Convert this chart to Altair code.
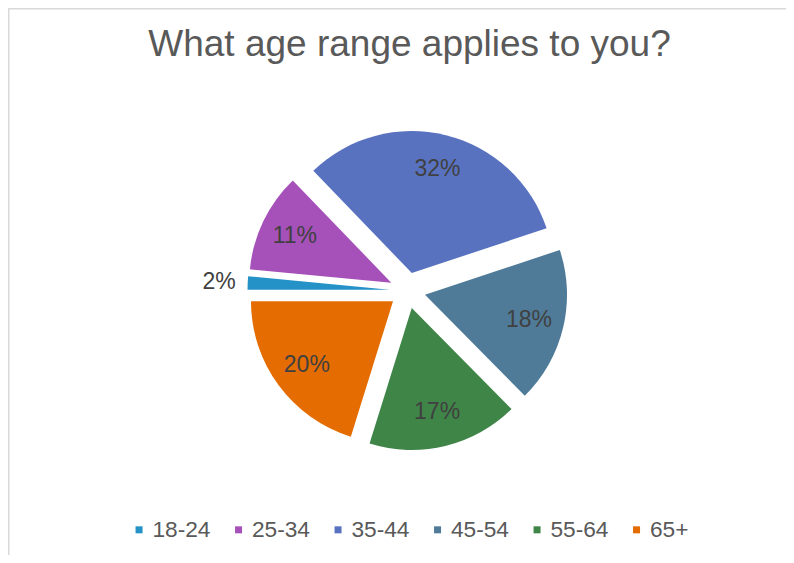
import math
import altair as alt
import pandas as pd

# ---- data ----
categories = ["18-24", "25-34", "35-44", "45-54", "55-64", "65+"]
shares = [1.5, 11.3, 32.1, 17.7, 17.2, 20.2]
colors = ["#2492C6", "#A551B9", "#5872C0", "#4F7B98", "#3F8548", "#E46C00"]
title_text = "What age range applies to you?"

df = pd.DataFrame({"age": categories, "share": shares, "idx": list(range(len(categories)))})

# ---- layout constants ----
W, H = 778, 547
CX, CY = 399.5, 282.5      # pie centre (view pixels)
EXPLODE = 18               # explosion distance of each slice
R = 142                    # pie radius
LABEL_R = 107              # inside-label distance from slice tip
OUT_R = R + 12             # outside-label distance
START = 1.5 * math.pi      # first slice starts at 9 o'clock

FONT = "Liberation Sans"

base = (
    alt.Chart(df)
    .transform_window(cum="sum(share)", sort=[alt.SortField("idx")], frame=[None, 0])
    .transform_joinaggregate(total="sum(share)")
    .transform_calculate(
        mid=f"{START} + 2*PI*(datum.cum - datum.share/2)/datum.total",
    )
    .transform_calculate(
        cx=f"{CX} + {EXPLODE}*sin(datum.mid)",
        cy=f"{CY} - {EXPLODE}*cos(datum.mid)",
        label="format(datum.share, '.0f') + '%'",
        big=f"datum.share/datum.total > 0.04",
    )
    .transform_calculate(
        lx=f"datum.big ? datum.cx + {LABEL_R}*sin(datum.mid) : datum.cx + {OUT_R}*sin(datum.mid)",
        ly=f"datum.big ? datum.cy - {LABEL_R}*cos(datum.mid) : datum.cy - {OUT_R}*cos(datum.mid)",
    )
)

arcs = base.mark_arc(radius=R, stroke=None).encode(
    theta=alt.Theta("share:Q", stack=True,
                    scale=alt.Scale(range=[START, START + 2 * math.pi])),
    order=alt.Order("idx:Q", sort="ascending"),
    color=alt.Color(
        "age:N",
        sort=categories,
        scale=alt.Scale(domain=categories, range=colors),
        legend=alt.Legend(
            title=None,
            orient="none",
            legendX=119.7,
            legendY=510,
            direction="horizontal",
            columns=6,
            symbolType="square",
            symbolSize=49,
            symbolStrokeWidth=0,
            labelFont=FONT,
            labelFontSize=22.7,
            labelColor="#595959",
            labelOffset=2,
            columnPadding=16.5,
        ),
    ),
    x=alt.X("cx:Q", scale=None),
    y=alt.Y("cy:Q", scale=None),
)

labels_in = base.transform_filter("datum.big").mark_text(
    font=FONT, fontSize=23, color="#404040", align="center", baseline="middle"
).encode(
    x=alt.X("lx:Q", scale=None),
    y=alt.Y("ly:Q", scale=None),
    text="label:N",
)

labels_out = base.transform_filter("!datum.big").mark_text(
    font=FONT, fontSize=23, color="#404040", align="right", baseline="middle"
).encode(
    x=alt.X("lx:Q", scale=None),
    y=alt.Y("ly:Q", scale=None),
    text="label:N",
)

one = alt.Data(values=[{}])
border_left = alt.Chart(one).mark_rule(color="#D9D9D9", strokeWidth=1.5).encode(
    x=alt.value(0.75), y=alt.value(0), y2=alt.value(H)
)
border_top = alt.Chart(one).mark_rule(color="#D9D9D9", strokeWidth=1.5).encode(
    x=alt.value(0), x2=alt.value(W), y=alt.value(0.75)
)

chart = (
    alt.layer(border_left, border_top, arcs, labels_in, labels_out)
    .properties(
        width=W,
        height=H,
        autosize=alt.AutoSizeParams(type="none"),
        padding=0,
        background="white",
        title=alt.TitleParams(
            title_text,
            font=FONT,
            fontSize=37,
            fontWeight="normal",
            color="#595959",
            anchor="middle",
            frame="group",
            orient="top",
            offset=0,
            baseline="alphabetic",
            dy=86,
            dx=12.5,
        ),
    )
    .configure_view(stroke=None)
)

chart.save("out.html", embed_options={"renderer": "svg", "actions": False})
